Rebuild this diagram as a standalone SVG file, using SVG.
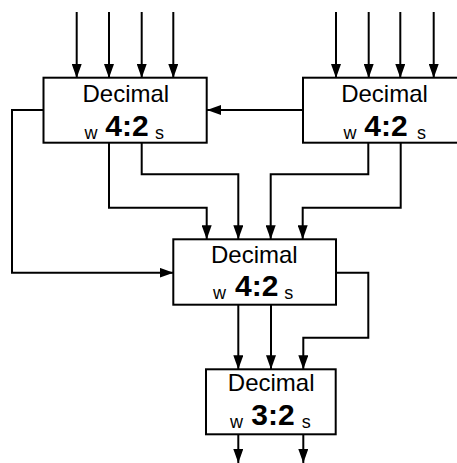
<svg xmlns="http://www.w3.org/2000/svg" width="457" height="463" viewBox="0 0 457 463">
<style>
.box{fill:#fff;stroke:#000;stroke-width:2}
.c{fill:none;stroke:#000;stroke-width:2;marker-end:url(#ah)}
.t{font-family:"Liberation Sans",Arial,sans-serif;font-size:24px;text-anchor:middle;fill:#000}
.b{font-family:"Liberation Sans",Arial,sans-serif;font-size:30px;font-weight:bold;text-anchor:middle;fill:#000}
.s{font-family:"Liberation Sans",Arial,sans-serif;font-size:18px;fill:#000}
</style>
<defs>
<marker id="ah" markerUnits="userSpaceOnUse" markerWidth="14" markerHeight="10" refX="14" refY="5" orient="auto">
<path d="M0,0 L14,5 L0,10 z" fill="#000"/>
</marker>
</defs>
<g id="connectors">
<path class="c" d="M76.7,12 V78"/>
<path class="c" d="M109,12 V78"/>
<path class="c" d="M141.7,12 V78"/>
<path class="c" d="M173.3,12 V78"/>
<path class="c" d="M336,12 V78"/>
<path class="c" d="M368.7,12 V78"/>
<path class="c" d="M400.3,12 V78"/>
<path class="c" d="M433.7,12 V78"/>
<path class="c" d="M303,110 H207"/>
<path class="c" d="M44,110 H12 V272.7 H173.5"/>
<path class="c" d="M109,142.7 V207.7 H206.7 V239.3"/>
<path class="c" d="M141.7,142.7 V174.3 H238.3 V239.3"/>
<path class="c" d="M368.3,142.7 V174.3 H270.7 V239.3"/>
<path class="c" d="M400.7,142.7 V207.7 H302.7 V239.3"/>
<path class="c" d="M336,272.7 H368.3 V337.7 H303.3 V369.3"/>
<path class="c" d="M238.3,304.7 V369.3"/>
<path class="c" d="M271,304.7 V369.3"/>
<path class="c" d="M238.3,434.3 V463"/>
<path class="c" d="M303.3,434.3 V463"/>
</g>
<g id="node-top-left">
<rect class="box" x="43.5" y="77.7" width="163.2" height="65"/>
<text class="t" x="125.8" y="101.7">Decimal</text>
<text class="s" x="84.5" y="139.3">w</text>
<text class="b" x="127" y="136">4:2</text>
<text class="s" x="155" y="139.3">s</text>
</g>
<g id="node-top-right">
<rect class="box" x="303" y="77.7" width="163.2" height="65"/>
<text class="t" x="384.5" y="101.7">Decimal</text>
<text class="s" x="343.5" y="139.3">w</text>
<text class="b" x="386" y="136">4:2</text>
<text class="s" x="417" y="139.3">s</text>
</g>
<g id="node-middle">
<rect class="box" x="173.3" y="239.3" width="162.7" height="65.4"/>
<text class="t" x="254.3" y="263.3">Decimal</text>
<text class="s" x="213" y="299.3">w</text>
<text class="b" x="256.7" y="295.7">4:2</text>
<text class="s" x="284.3" y="299.3">s</text>
</g>
<g id="node-bottom">
<rect class="box" x="206" y="369.3" width="129.7" height="65"/>
<text class="t" x="271.2" y="391">Decimal</text>
<text class="s" x="230" y="427.7">w</text>
<text class="b" x="273" y="424.7">3:2</text>
<text class="s" x="301.7" y="427.7">s</text>
</g>
</svg>
